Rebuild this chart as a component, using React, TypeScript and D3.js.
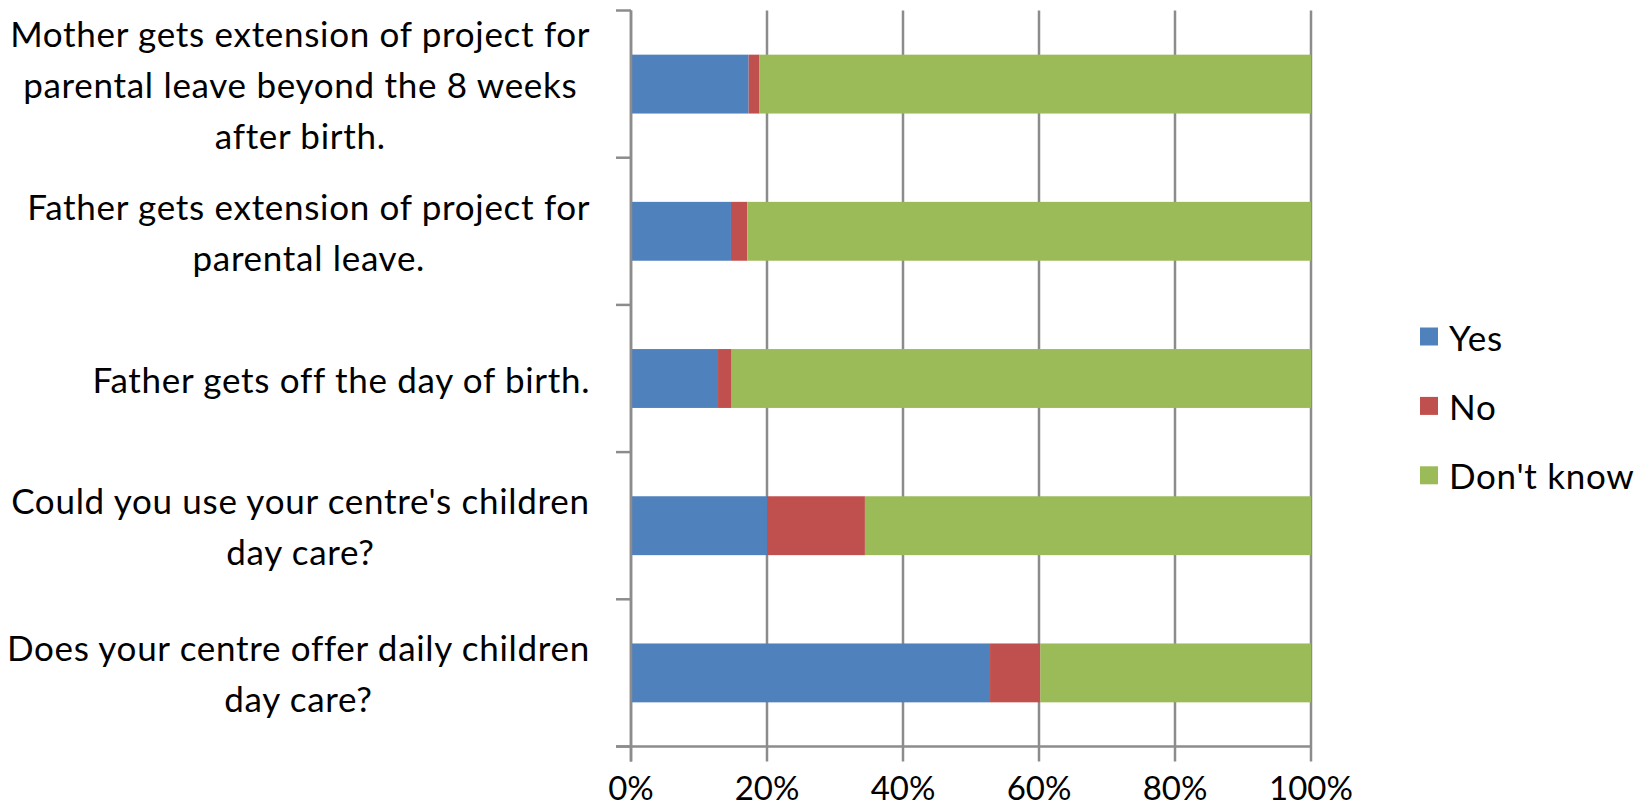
import React from "react";
import * as d3 from "d3";

const categories: string[][] = [
  ["Mother gets extension of project for", "parental leave beyond the 8 weeks", "after birth."],
  ["Father gets extension of project for", "parental leave."],
  ["Father gets off the day of birth."],
  ["Could you use your centre's children", "day care?"],
  ["Does your centre offer daily children", "day care?"],
];
const seriesNames = ["Yes", "No", "Don't know"];
const yesValues = [17.3, 14.7, 12.8, 20.0, 52.8];
const noValues = [1.6, 2.4, 2.0, 14.4, 7.4];
const dontKnowValues = [81.1, 82.9, 85.2, 65.6, 39.8];
const xTicks = [0, 20, 40, 60, 80, 100];
const colors = ["#4F81BD", "#C0504D", "#9BBB59"];

const W = 1649, H = 812;
const X0 = 631, X1 = 1311, YT = 10.5, YB = 746.5;
const FONT = "Lato, 'Open Sans', sans-serif";
const FS_TICK = 33;
const FS = 35;
const LS = 0.7;
const LINE_H = 51;
const LABEL_RIGHT = 591;
const GRID = "#8c8c8c";

let ctx: CanvasRenderingContext2D | null = null;
function measure(t: string): number {
  if (!ctx) {
    const c = document.createElement("canvas");
    ctx = c.getContext("2d");
  }
  if (!ctx) return t.length * FS * 0.5;
  ctx.font = `${FS}px Lato`;
  return ctx.measureText(t).width + LS * t.length;
}

export default function App() {
  const x = d3.scaleLinear().domain([0, 100]).range([X0, X1]);
  const idx = categories.map((_, i) => String(i));
  const y = d3.scaleBand().domain(idx).range([YT, YB]).paddingInner(0.6).paddingOuter(0.3);
  const step = y.step();
  const rows = categories.map((c, i) => ({ i, vals: [yesValues[i], noValues[i], dontKnowValues[i]] }));
  const stack = d3.stack<any>().keys(["0", "1", "2"]).value((d: any, k: string) => d.vals[+k]);
  const stacked = stack(rows as any);
  const boundaries = d3.range(categories.length + 1).map((k) => YT + k * step);

  return (
    <svg width={W} height={H} style={{ position: "absolute", left: 0, top: 0, background: "#fff" }}>
      {xTicks.map((t) => (
        <line key={"g" + t} x1={x(t)} x2={x(t)} y1={YT} y2={YB + 15} stroke={GRID} strokeWidth={2.5} />
      ))}
      {boundaries.map((b, k) => (
        <line key={"c" + k} x1={X0 - 15} x2={X0} y1={b} y2={b} stroke={GRID} strokeWidth={2.5} />
      ))}
      {stacked.map((s, si) => (
        <g key={si} fill={colors[si]}>
          {s.map((d: any, j: number) => (
            <rect key={j} x={x(d[0])} width={x(d[1]) - x(d[0])} y={y(String(j))!} height={y.bandwidth()} />
          ))}
        </g>
      ))}
      <line x1={X0} x2={X0} y1={YT} y2={YB + 15} stroke={GRID} strokeWidth={2.5} />
      <line x1={X0 - 15} x2={X1} y1={YB} y2={YB} stroke={GRID} strokeWidth={2.5} />
      {xTicks.map((t) => (
        <text key={"t" + t} x={x(t)} y={787} textAnchor="middle" dominantBaseline="central"
          fontFamily={FONT} fontSize={FS_TICK} fill="#000">{t + "%"}</text>
      ))}
      {categories.map((lines, i) => {
        const maxW = Math.max(...lines.map(measure));
        const cx = LABEL_RIGHT - maxW / 2;
        const cy = y(String(i))! + y.bandwidth() / 2;
        const startY = cy - ((lines.length - 1) * LINE_H) / 2;
        return (
          <text key={"l" + i} textAnchor="middle" fontFamily={FONT} fontSize={FS} letterSpacing={LS} fill="#000">
            {lines.map((ln, k) => (
              <tspan key={k} x={cx} y={startY + k * LINE_H} dominantBaseline="central">{ln}</tspan>
            ))}
          </text>
        );
      })}
      {seriesNames.map((n, i) => {
        const ly = 336.5 + i * 69.4;
        return (
          <g key={"lg" + i}>
            <rect x={1420} y={ly - 9} width={18} height={18} fill={colors[i]} />
            <text x={1449} y={ly} dominantBaseline="central" fontFamily={FONT} fontSize={FS} letterSpacing={LS} fill="#000">{n}</text>
          </g>
        );
      })}
    </svg>
  );
}
